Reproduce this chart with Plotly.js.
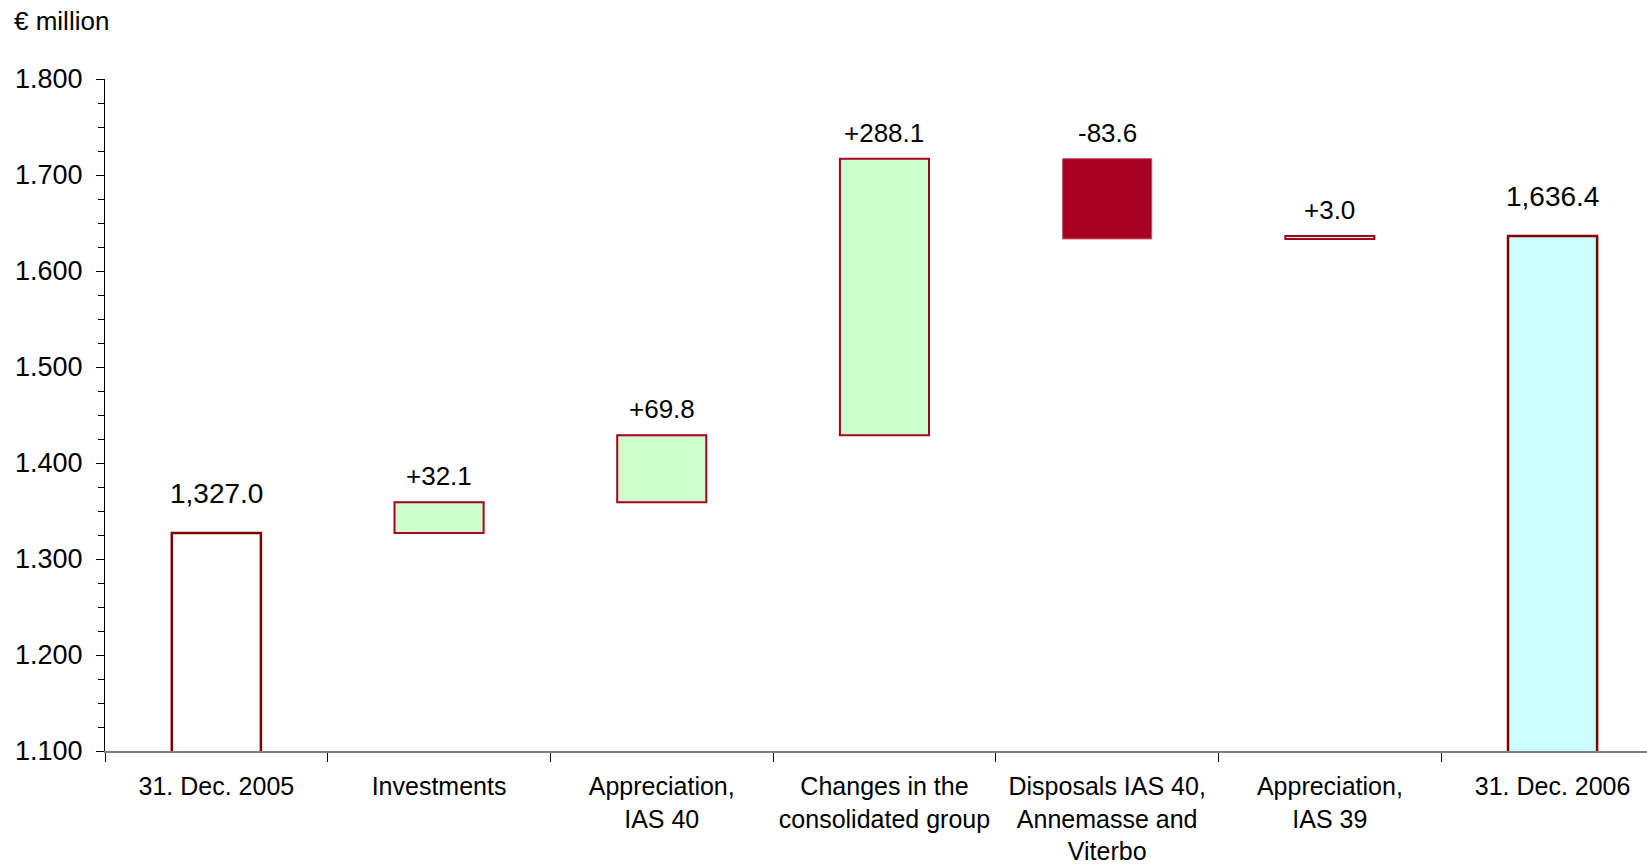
<!DOCTYPE html>
<html>
<head>
<meta charset="utf-8">
<script src="https://cdn.plot.ly/plotly-3.0.1.min.js"></script>
<style>html,body{margin:0;padding:0;background:#fff;}#chart{width:1647px;height:865px;}</style>
</head>
<body>
<div id="chart"></div>
<script>
// ---- data ----
const categories = ["31. Dec. 2005", "Investments", "Appreciation,<br>IAS 40", "Changes in the<br>consolidated group", "Disposals IAS 40,<br>Annemasse and<br>Viterbo", "Appreciation,<br>IAS 39", "31. Dec. 2006"];
const startValue = 1327.0;
const deltas = [32.1, 69.8, 288.1, -83.6, 3.0];
const endValue = 1636.4;
const valueLabels = ["1,327.0", "+32.1", "+69.8", "+288.1", "-83.6", "+3.0", "1,636.4"];
const yTickVals = [1100, 1200, 1300, 1400, 1500, 1600, 1700, 1800];
const yTickText = ["1.100", "1.200", "1.300", "1.400", "1.500", "1.600", "1.700", "1.800"];
const fillColors = ["#FFFFFF", "#CCFFCC", "#CCFFCC", "#CCFFCC", "#A50021", "#CCFFCC", "#CCFFFF"];
const lineColors = ["#800000", "#A50021", "#A50021", "#A50021", "#C8506A", "#A50021", "#800000"];

// ---- build waterfall geometry from values ----
const bases = [], heights = [], tops = [], isTotal = [];
bases.push(0); heights.push(startValue); tops.push(startValue); isTotal.push(true);
let running = startValue;
deltas.forEach(d => {
  const b = d >= 0 ? running : running + d;
  bases.push(b); heights.push(Math.abs(d)); tops.push(b + Math.abs(d)); isTotal.push(false);
  running += d;
});
bases.push(0); heights.push(endValue); tops.push(endValue); isTotal.push(true);

const font = "Liberation Sans, Arial, sans-serif";

const trace = {
  type: "bar",
  x: categories,
  y: heights,
  base: bases,
  width: 0.4,
  marker: {color: fillColors, line: {color: lineColors, width: [2.5, 2, 2, 2, 1, 2, 2.5]}},
  hoverinfo: "none"
};

const annotations = categories.map((c, i) => ({
  x: c, y: tops[i], xref: "x", yref: "y",
  text: valueLabels[i], showarrow: false,
  yanchor: "middle", yshift: isTotal[i] ? 40 : 26,
  font: {family: font, size: isTotal[i] ? 28 : 26, color: "#000"}
}));
annotations.push({
  xref: "paper", yref: "paper", x: -0.06, y: 1.086, xanchor: "left", yanchor: "middle",
  text: "€ million", showarrow: false, font: {family: font, size: 26, color: "#000"}
});

const layout = {
  width: 1647, height: 865,
  margin: {l: 105, r: 0, t: 79, b: 114},
  paper_bgcolor: "#fff", plot_bgcolor: "#fff",
  showlegend: false,
  font: {family: font, color: "#000"},
  xaxis: {
    type: "category", range: [-0.5, 6.424],
    showgrid: false, zeroline: false,
    showline: true, linecolor: "#808080", linewidth: 2,
    ticks: "outside", tickson: "boundaries", ticklen: 9, tickcolor: "#000", tickwidth: 1,
    tickfont: {family: font, size: 25, color: "#000"},
    ticklabelstandoff: 12,
    fixedrange: true
  },
  yaxis: {
    range: [1100, 1800],
    tickvals: yTickVals, ticktext: yTickText,
    showgrid: false, zeroline: false,
    showline: true, linecolor: "#000", linewidth: 1,
    ticks: "outside", ticklen: 8, tickcolor: "#000", tickwidth: 1,
    minor: {dtick: 25, ticks: "outside", ticklen: 6, tickcolor: "#000", showgrid: false},
    tickfont: {family: font, size: 27, color: "#000"},
    ticklabelstandoff: 8,
    fixedrange: true
  },
  annotations: annotations
};

Plotly.newPlot("chart", [trace], layout, {displayModeBar: false, staticPlot: true});
</script>
</body>
</html>
